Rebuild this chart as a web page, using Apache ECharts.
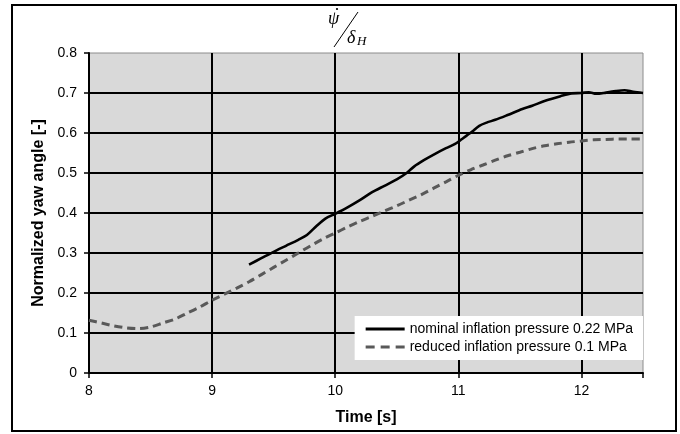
<!DOCTYPE html>
<html>
<head>
<meta charset="utf-8">
<script src="https://cdn.jsdelivr.net/npm/echarts@6/dist/echarts.min.js"></script>
<style>
  html, body { margin: 0; padding: 0; background: #fff; }
  #main { width: 680px; height: 434px; }
</style>
</head>
<body>
<div id="main"></div>
<script>
// nominal inflation pressure 0.22 MPa (solid)
var nominalTime = [9.30, 9.40, 9.50, 9.60, 9.70, 9.77, 9.85, 9.92, 10.0, 10.1, 10.2, 10.3, 10.4, 10.5, 10.58, 10.64, 10.72, 10.8, 10.9, 10.97, 11.03, 11.11, 11.17, 11.23, 11.3, 11.4, 11.52, 11.6, 11.7, 11.83, 11.92, 12.0, 12.06, 12.12, 12.2, 12.28, 12.35, 12.42, 12.5];
var nominalValue = [0.271, 0.287, 0.303, 0.318, 0.333, 0.345, 0.368, 0.386, 0.398, 0.414, 0.432, 0.452, 0.468, 0.484, 0.500, 0.516, 0.532, 0.546, 0.562, 0.572, 0.585, 0.603, 0.618, 0.626, 0.633, 0.645, 0.660, 0.668, 0.680, 0.692, 0.699, 0.700, 0.702, 0.698, 0.701, 0.705, 0.707, 0.703, 0.700];

// reduced inflation pressure 0.1 MPa (dashed)
var reducedTime = [8.0, 8.1, 8.2, 8.3, 8.4, 8.5, 8.6, 8.7, 8.8, 8.9, 9.0, 9.1, 9.2, 9.3, 9.4, 9.5, 9.6, 9.7, 9.8, 9.9, 10.0, 10.1, 10.2, 10.3, 10.4, 10.5, 10.6, 10.7, 10.8, 10.9, 11.0, 11.1, 11.2, 11.3, 11.4, 11.5, 11.6, 11.7, 11.8, 11.9, 12.0, 12.1, 12.2, 12.3, 12.4, 12.5];
var reducedValue = [0.132, 0.125, 0.118, 0.113, 0.111, 0.115, 0.125, 0.135, 0.150, 0.165, 0.182, 0.197, 0.212, 0.228, 0.246, 0.264, 0.282, 0.300, 0.318, 0.335, 0.350, 0.365, 0.379, 0.392, 0.405, 0.418, 0.432, 0.446, 0.462, 0.478, 0.494, 0.508, 0.520, 0.532, 0.543, 0.552, 0.561, 0.568, 0.573, 0.577, 0.580, 0.583, 0.584, 0.585, 0.585, 0.585];

var seriesNames = ['nominal inflation pressure 0.22 MPa', 'reduced inflation pressure 0.1 MPa'];

function pairs(xs, ys) {
    var out = [];
    for (var i = 0; i < xs.length; i++) out.push([xs[i], ys[i]]);
    return out;
}

var myChart = echarts.init(document.getElementById('main'));
var font = '"Liberation Sans", Arial, sans-serif';
var serif = 'italic 18px "Liberation Serif", "DejaVu Serif", serif';

var option = {
    animation: false,
    backgroundColor: '#fff',
    textStyle: { fontFamily: font },
    grid: {
        left: 89, right: 37, top: 53, bottom: 61,
        show: true,
        backgroundColor: '#d9d9d9',
        borderColor: '#8c8c8c',
        borderWidth: 1
    },
    graphic: [
        // outer frame
        { type: 'rect', shape: { x: 12, y: 5, width: 664, height: 426 },
          style: { fill: 'none', stroke: '#000', lineWidth: 2 }, z: 100 },
        // title: psi-dot / delta_H
        { type: 'text', left: 328, top: 10,
          style: { text: 'ψ', font: serif, fill: '#000' } },
        { type: 'circle', shape: { cx: 337, cy: 9, r: 1.1 },
          style: { fill: '#000' } },
        { type: 'line', shape: { x1: 358, y1: 12, x2: 334, y2: 47 },
          style: { stroke: '#000', lineWidth: 1 } },
        { type: 'text', left: 347, top: 29,
          style: { text: 'δ', font: serif, fill: '#000' } },
        { type: 'text', left: 357, top: 35,
          style: { text: 'H', font: 'italic 13px "Liberation Serif", "DejaVu Serif", serif', fill: '#000' } }
    ],
    legend: {
        orient: 'vertical',
        right: 37,
        top: 316,
        backgroundColor: '#fff',
        padding: [6, 10, 6, 11],
        itemGap: 4,
        itemWidth: 39,
        itemHeight: 3,
        textStyle: { fontSize: 14, color: '#000', fontFamily: font },
        data: [
            { name: seriesNames[0], icon: 'path://M0,0H39V3H0Z' },
            { name: seriesNames[1], icon: 'path://M0,0H9V3H0Z M15,0H24V3H15Z M30,0H39V3H30Z' }
        ]
    },
    xAxis: {
        type: 'value',
        min: 8, max: 12.5, interval: 1,
        name: 'Time [s]',
        nameLocation: 'middle',
        nameGap: 37,
        nameTextStyle: { fontSize: 16, fontWeight: 'bold', color: '#000' },
        axisLine: { show: true, onZero: false, lineStyle: { color: '#000', width: 2 } },
        axisTick: { show: true, length: 5, lineStyle: { color: '#000', width: 1.5 } },
        axisLabel: {
            color: '#000', fontSize: 14, margin: 11,
            formatter: function (v) { return v % 1 === 0 ? String(v) : ''; }
        },
        splitLine: { show: true, showMinLine: false, showMaxLine: false, lineStyle: { color: '#000', width: 2 } }
    },
    yAxis: {
        type: 'value',
        min: 0, max: 0.8, interval: 0.1,
        name: 'Normalized yaw angle [-]',
        nameLocation: 'middle',
        nameGap: 42,
        nameTextStyle: { fontSize: 16, fontWeight: 'bold', color: '#000' },
        axisLine: { show: true, lineStyle: { color: '#000', width: 2 } },
        axisTick: { show: true, length: 5, lineStyle: { color: '#000', width: 1.5 } },
        axisLabel: {
            color: '#000', fontSize: 14, margin: 12,
            formatter: function (v) { return Math.round(v * 10) / 10 + ''; }
        },
        splitLine: { show: true, showMinLine: false, showMaxLine: false, lineStyle: { color: '#000', width: 2 } }
    },
    series: [
        {
            name: seriesNames[0],
            type: 'line',
            showSymbol: false,
            symbol: 'none',
            smooth: 0.3,
            data: pairs(nominalTime, nominalValue),
            lineStyle: { color: '#000', width: 2.6 },
            itemStyle: { color: '#000' },
            z: 5
        },
        {
            name: seriesNames[1],
            type: 'line',
            showSymbol: false,
            symbol: 'none',
            smooth: 0.3,
            data: pairs(reducedTime, reducedValue),
            lineStyle: { color: '#595959', width: 3, type: [8, 5] },
            itemStyle: { color: '#595959' },
            z: 4
        }
    ]
};

myChart.setOption(option);
</script>
</body>
</html>
